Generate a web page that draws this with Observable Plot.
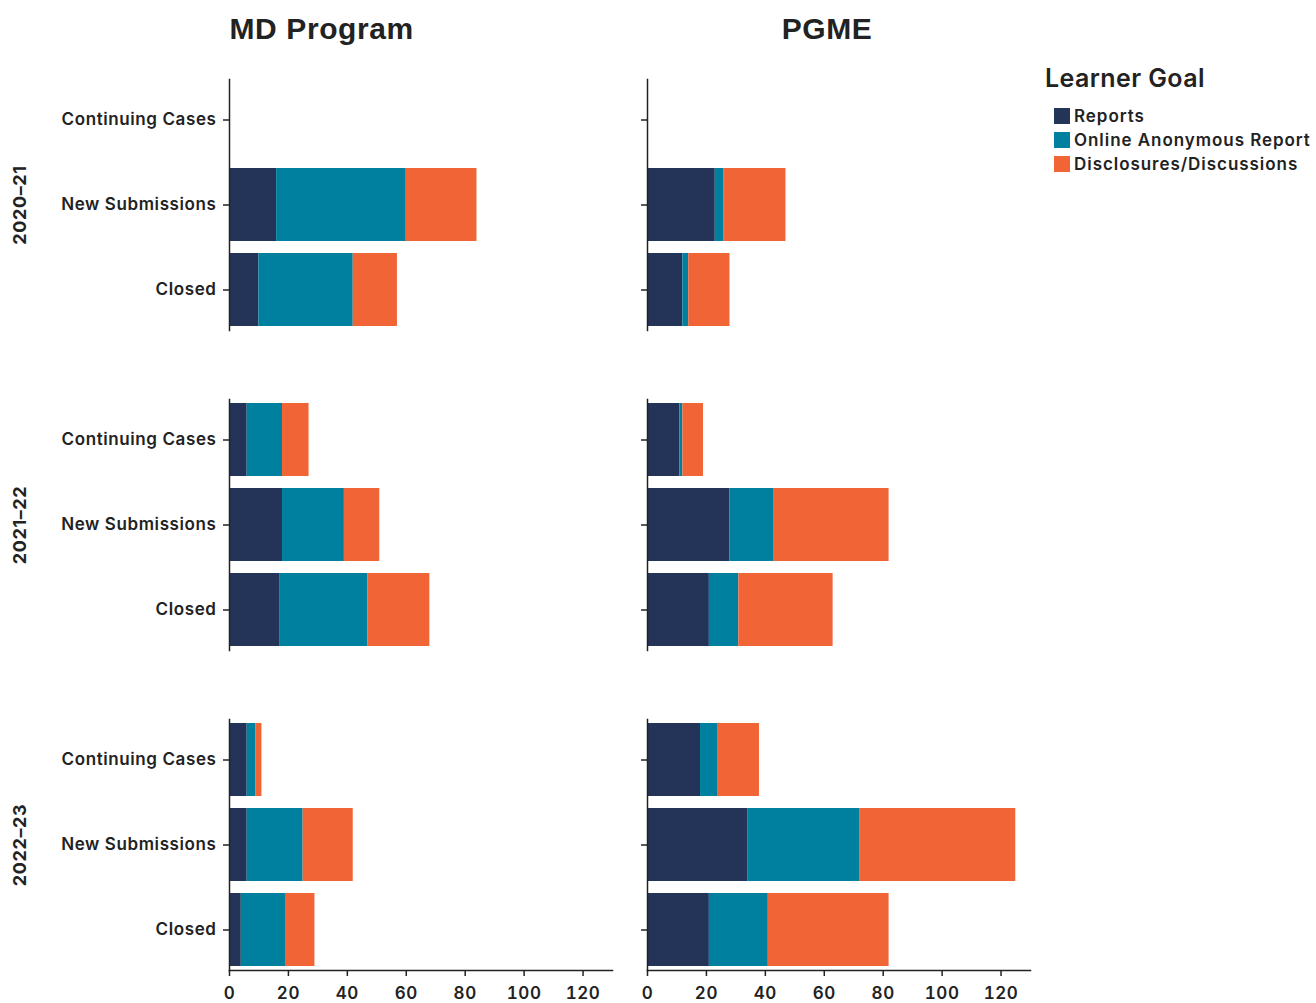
<!DOCTYPE html>
<html>
<head>
<meta charset="utf-8">
<script src="https://cdn.jsdelivr.net/npm/d3@7"></script>
<script src="https://cdn.jsdelivr.net/npm/@observablehq/plot@0.6"></script>
<style>
  html, body { margin: 0; padding: 0; background: #fff; }
  #wrap { position: relative; width: 1316px; height: 1003px; }
  #legend { position: absolute; left: 1045px; top: 63px; font-family: Inter, "Noto Sans", sans-serif; color: #222; }
  #legend .title { font-size: 25px; font-weight: 600; margin-bottom: 11px; letter-spacing: 0.4px; }
  #legend .item { display: flex; align-items: center; font-size: 17px; font-weight: 600; height: 24px; margin-left: 9px; letter-spacing: 0.95px; }
  #legend .sw { width: 16px; height: 16px; margin-right: 4px; }
</style>
</head>
<body>
<div id="wrap"><div id="chart"></div><div id="legend"></div></div>
<script>
const programs = ["MD Program", "PGME"];
const years = ["2020–21", "2021–22", "2022–23"];
const statuses = ["Continuing Cases", "New Submissions", "Closed"];
const goals = ["Reports", "Online Anonymous Report", "Disclosures/Discussions"];
const colors = ["#243458", "#00809f", "#f06436"];
const xTicks = [0, 20, 40, 60, 80, 100, 120];

// values ordered year by year: [Continuing, New, Closed] for each year
const mdReports       = [0, 16, 10,   6, 18, 17,   6,  6,  4];
const mdOnline        = [0, 44, 32,  12, 21, 30,   3, 19, 15];
const mdDisclosures   = [0, 24, 15,   9, 12, 21,   2, 17, 10];
const pgmeReports     = [0, 23, 12,  11, 28, 21,  18, 34, 21];
const pgmeOnline      = [0,  3,  2,   1, 15, 10,   6, 38, 20];
const pgmeDisclosures = [0, 21, 14,   7, 39, 32,  14, 53, 41];

const series = {
  "MD Program": [mdReports, mdOnline, mdDisclosures],
  "PGME": [pgmeReports, pgmeOnline, pgmeDisclosures]
};

const rows = [];
for (const program of programs) {
  years.forEach((year, yi) => {
    statuses.forEach((status, si) => {
      goals.forEach((goal, gi) => {
        rows.push({program, year, status, goal, value: series[program][gi][yi * 3 + si]});
      });
    });
  });
}

const titles = [
  {program: "MD Program", year: years[0]},
  {program: "PGME", year: years[0]}
];
const yearLabels = years.map(year => ({program: programs[0], year}));

const ink = "#222";

const chart = Plot.plot({
  width: 1040,
  height: 1003,
  marginLeft: 229,
  marginRight: 9,
  marginTop: 78,
  marginBottom: 33,
  style: {fontFamily: "Inter, 'Noto Sans', sans-serif", fontSize: "17px", fontWeight: 600, color: ink, background: "#fff", letterSpacing: "0.6px"},
  x: {domain: [0, 130], label: null},
  y: {domain: statuses, paddingInner: 0.14, paddingOuter: 0.03, label: null},
  fx: {domain: programs, paddingInner: 0.0835, paddingOuter: 0, label: null, axis: null},
  fy: {domain: years, paddingInner: 0.216, paddingOuter: 0, label: null, axis: null},
  color: {domain: goals, range: colors},
  marks: [
    Plot.barX(rows, Plot.stackX({x: "value", y: "status", fx: "program", fy: "year", fill: "goal"})),
    Plot.frame({anchor: "left", stroke: ink, strokeWidth: 1.5}),
    Plot.frame({anchor: "bottom", stroke: ink, strokeWidth: 1.5, facetAnchor: "bottom"}),
    Plot.axisY({facetAnchor: null, tickSize: 6, tickFormat: () => "", stroke: ink, strokeWidth: 1.5, label: null}),
    Plot.axisY({facetAnchor: "left", tickSize: 0, tickPadding: 13, fontSize: 17, fontWeight: 600, fill: ink, label: null}),
    Plot.axisX({facetAnchor: "bottom", ticks: xTicks, tickSize: 6, tickPadding: 10, fontSize: 17, fontWeight: 600, fill: ink, stroke: ink, strokeWidth: 1.5, label: null}),
    Plot.text(titles.filter(d => d.program === "MD Program"), {fx: "program", fy: "year", text: "program", frameAnchor: "top-left", textAnchor: "start", lineAnchor: "bottom", dy: -41, fontSize: 30, fontWeight: 700, fontFamily: "'Liberation Sans', Arial, sans-serif", fill: ink}),
    Plot.text(titles.filter(d => d.program === "PGME"), {fx: "program", fy: "year", text: "program", frameAnchor: "top", textAnchor: "middle", lineAnchor: "bottom", dx: -12, dy: -41, fontSize: 30, fontWeight: 700, fontFamily: "'Liberation Sans', Arial, sans-serif", fill: ink}),
    Plot.text(yearLabels, {fx: "program", fy: "year", text: "year", frameAnchor: "left", rotate: -90, dx: -209, dy: 0, textAnchor: "middle", fontSize: 18, fontWeight: 700, fill: ink})
  ]
});
document.getElementById("chart").appendChild(chart);

const legend = document.getElementById("legend");
const t = document.createElement("div");
t.className = "title";
t.textContent = "Learner Goal";
legend.appendChild(t);
goals.forEach((g, i) => {
  const item = document.createElement("div");
  item.className = "item";
  const sw = document.createElement("div");
  sw.className = "sw";
  sw.style.background = colors[i];
  const label = document.createElement("span");
  label.textContent = g;
  item.appendChild(sw);
  item.appendChild(label);
  legend.appendChild(item);
});
</script>
</body>
</html>
